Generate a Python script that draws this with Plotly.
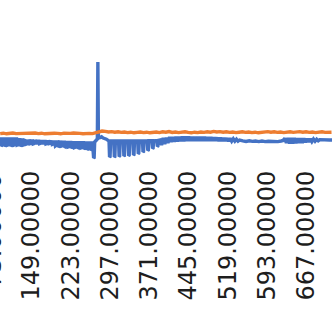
import plotly.graph_objects as go

# ---- data (category index, value) ----
blue_series = [
    (89, 0.15),
    (91, 0.15), (92, -0.20), (93, -0.18), (94, 0.15),
    (97, 0.15), (98, -0.20), (99, -0.18), (100, 0.15),
    (103, 0.15), (104, -0.15), (105, -0.14), (106, 0.15),
    (109, 0.15), (110, -0.20), (111, -0.18), (112, 0.15),
    (115, 0.15), (116, -0.15), (117, -0.14), (118, 0.15),
    (121, 0.15), (122, -0.15), (123, -0.14), (124, 0.12),
    (127, 0.12), (128, -0.20), (129, -0.18), (130, 0.10),
    (133, 0.10), (134, -0.15), (135, -0.14), (136, 0.08),
    (139, 0.05), (140, -0.10), (141, -0.09), (142, 0.05),
    (145, 0.06), (146, -0.08), (147, -0.07), (148, 0.05),
    (151, 0.05), (152, -0.10), (153, -0.09), (154, 0.04),
    (157, 0.05), (158, -0.05), (159, -0.05), (160, 0.04),
    (163, 0.04), (164, -0.08), (165, -0.07), (166, 0.03),
    (169, 0.03), (170, -0.05), (171, -0.05), (172, 0.03),
    (175, 0.03), (176, -0.10), (177, -0.09), (178, 0.02),
    (181, 0.02), (182, -0.08), (183, -0.07), (184, 0.02),
    (187, 0.01), (188, -0.12), (189, -0.11), (190, 0.00),
    (193, 0.00), (194, -0.20), (195, -0.18), (196, 0.00),
    (199, 0.00), (200, -0.25), (201, -0.23), (202, 0.00),
    (205, -0.01), (206, -0.20), (207, -0.19), (208, -0.01),
    (211, -0.01), (212, -0.28), (213, -0.26), (214, -0.02),
    (217, -0.02), (218, -0.25), (219, -0.24), (220, -0.02),
    (223, -0.02), (224, -0.30), (225, -0.28), (226, -0.03),
    (229, -0.03), (230, -0.28), (231, -0.27), (232, -0.03),
    (235, -0.03), (236, -0.32), (237, -0.30), (238, -0.04),
    (241, -0.04), (242, -0.30), (243, -0.29), (244, -0.04),
    (247, -0.04), (248, -0.35), (249, -0.33), (250, -0.05),
    (253, -0.05), (254, -0.38), (255, -0.36), (256, -0.05),
    (259, -0.05), (260, -0.40), (261, -0.38), (262, -0.05),
    (264, -0.05), (266, -0.80), (267, -0.78), (268, 0.00), (271, 0.10), (273, 0.15),
    (274, 4.00), (275, 0.20),
    (278, 0.22), (281, 0.26), (284, 0.20), (287, 0.18), (290, 0.14), (293, 0.08),
    (295, 0.05), (296, -0.75), (297, -0.73), (298, 0.05),
    (304, 0.05), (305, -0.75), (306, -0.73), (307, 0.05),
    (313, 0.05), (314, -0.72), (315, -0.70), (316, 0.05),
    (322, 0.05), (323, -0.70), (324, -0.68), (325, 0.05),
    (331, 0.05), (332, -0.68), (333, -0.66), (334, 0.05),
    (340, 0.05), (341, -0.65), (342, -0.63), (343, 0.05),
    (349, 0.05), (350, -0.58), (351, -0.56), (352, 0.05),
    (358, 0.05), (359, -0.50), (360, -0.48), (361, 0.05),
    (367, 0.05), (368, -0.42), (369, -0.40), (370, 0.06),
    (376, 0.06), (377, -0.32), (378, -0.30), (379, 0.06),
    (385, 0.07), (386, -0.22), (387, -0.20), (388, 0.08),
    (391, 0.10), (394, -0.15), (397, 0.20), (400, -0.10), (403, 0.22), (406, -0.05),
    (409, 0.25), (412, 0.00), (415, 0.25), (418, 0.02), (421, 0.26), (424, 0.03),
    (427, 0.26), (430, 0.04), (433, 0.27), (436, 0.04), (439, 0.27), (442, 0.05),
    (445, 0.27), (448, 0.05), (451, 0.26), (454, 0.05), (457, 0.26), (460, 0.06),
    (463, 0.26), (466, 0.06), (469, 0.25), (472, 0.06), (475, 0.25), (478, 0.06),
    (481, 0.24), (484, 0.06), (487, 0.24), (490, 0.06), (493, 0.23), (496, 0.06),
    (499, 0.22), (502, 0.05), (505, 0.21), (508, 0.05), (511, 0.20), (514, 0.05),
    (517, 0.19), (520, 0.04), (523, 0.18), (526, 0.04), (529, 0.16), (532, 0.04),
    (535, 0.14), (538, 0.04), (541, 0.10),
    (547, 0.06), (553, 0.03), (559, 0.06), (565, 0.03), (571, 0.05), (577, 0.02),
    (583, 0.05), (589, 0.02), (595, 0.04), (601, 0.02), (607, 0.04), (613, 0.02),
    (619, 0.05), (623, 0.08),
    (626, 0.18), (629, -0.05), (632, 0.20), (635, -0.07), (638, 0.20), (641, -0.07),
    (644, 0.20), (647, -0.06), (650, 0.19), (653, -0.05), (656, 0.18), (659, -0.04),
    (662, 0.18), (665, -0.02), (668, 0.17), (671, 0.00), (674, 0.16), (677, 0.02),
    (680, 0.15), (683, 0.04), (686, 0.14), (689, 0.06), (692, 0.12),
    (698, 0.10), (704, 0.11), (710, 0.10), (716, 0.10),
]
blue_cat = [c for c, _ in blue_series]
blue_val = [v for _, v in blue_series]

orange_cat = list(range(90, 271, 6)) + list(range(276, 715, 6))
orange_val = [
    0.42, 0.44, 0.41, 0.43, 0.45, 0.42, 0.43, 0.41, 0.44, 0.42,
    0.43, 0.45, 0.42, 0.44, 0.41, 0.43, 0.42, 0.44, 0.43, 0.41,
    0.44, 0.42, 0.43, 0.45, 0.42, 0.43, 0.41, 0.44, 0.43, 0.42,
    0.45,
    0.52, 0.55, 0.53, 0.50, 0.52, 0.49, 0.51, 0.48, 0.50, 0.47,
    0.49, 0.46, 0.48, 0.50, 0.47, 0.49, 0.46, 0.48, 0.50, 0.47,
    0.51, 0.49, 0.52, 0.48, 0.50, 0.47, 0.49, 0.51, 0.48, 0.46,
    0.49, 0.47, 0.50, 0.48, 0.51, 0.49, 0.53, 0.50, 0.52, 0.49,
    0.51, 0.48, 0.50, 0.47, 0.49, 0.51, 0.48, 0.50, 0.47, 0.49,
    0.46, 0.48, 0.50, 0.52, 0.49, 0.51, 0.48, 0.50, 0.47, 0.49,
    0.51, 0.48, 0.50, 0.52, 0.49, 0.51, 0.48, 0.50, 0.47, 0.49,
    0.51, 0.48, 0.50, 0.49,
]
assert len(orange_cat) == len(orange_val)

tick_cats = [1, 75, 149, 223, 297, 371, 445, 519, 593, 667, 741]
tick_text = [f"{c:.5f}" for c in tick_cats]

x_range = [89.7, 714.9]
y_range = [-1.15, 7.1]

BLUE = "#4472C4"
ORANGE = "#ED7D31"
FONT = "DejaVu Sans"
TXT = "#1e1e1e"
FS = 24

fig = go.Figure()
fig.add_trace(go.Scatter(x=blue_cat, y=blue_val, mode="lines",
                         line=dict(color=BLUE, width=3.4), name="Series1"))
fig.add_trace(go.Scatter(x=orange_cat, y=orange_val, mode="lines",
                         line=dict(color=ORANGE, width=3.4), name="Series2"))

# partially visible first label (its tick lies just left of the visible area)
lab_x = (tick_cats[1] - x_range[0]) / (x_range[1] - x_range[0])
fig.add_annotation(text=tick_text[1], xref="paper", yref="paper", x=lab_x, y=0,
                   xanchor="center", yanchor="top", textangle=-90, showarrow=False,
                   yshift=-6, font=dict(family=FONT, size=FS, color=TXT))

fig.update_layout(
    width=332, height=313,
    margin=dict(l=0, r=0, t=0, b=148),
    paper_bgcolor="white", plot_bgcolor="white",
    showlegend=False,
    xaxis=dict(range=x_range, tickvals=tick_cats, ticktext=tick_text,
               tickangle=-90, showgrid=False, zeroline=False, showline=False,
               ticks="", tickfont=dict(family=FONT, size=FS, color=TXT)),
    yaxis=dict(range=y_range, visible=False, showgrid=False, zeroline=False),
)
fig.write_html("out.html")
